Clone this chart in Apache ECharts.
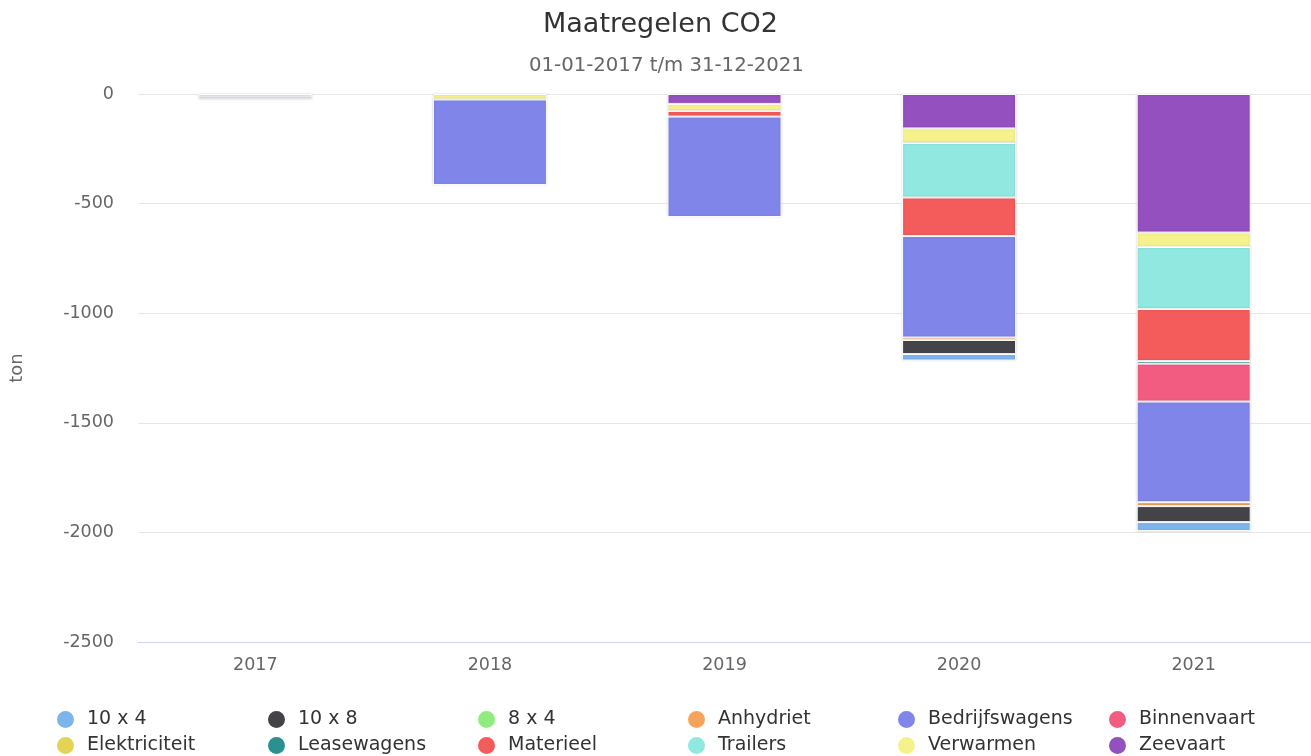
<!DOCTYPE html>
<html>
<head>
<meta charset="utf-8">
<script src="https://cdn.jsdelivr.net/npm/echarts@6/dist/echarts.min.js"></script>
<style>
html,body{margin:0;padding:0;background:#fff;}
#chart{width:1311px;height:756px;}
</style>
</head>
<body>
<div id="chart"></div>
<script>
const years = ['2017', '2018', '2019', '2020', '2021'];
const yTicks = { min: -2500, max: 0, interval: 500 };

// legend order (as in reference)
const seriesNames = ['10 x 4', '10 x 8', '8 x 4', 'Anhydriet', 'Bedrijfswagens', 'Binnenvaart',
  'Elektriciteit', 'Leasewagens', 'Materieel', 'Trailers', 'Verwarmen', 'Zeevaart'];
const seriesColors = ['#7cb5ec', '#434348', '#90ed7d', '#f7a35c', '#8085e9', '#f15c80',
  '#e4d354', '#2b908f', '#f45b5b', '#91e8e1', '#f6f28b', '#9350be'];

// values per series (ton), per year
const v10x4 = [null, null, null, -30, -41];
const v10x8 = [null, null, null, -64, -73];
const v8x4 = [null, null, null, null, null];
const vAnhydriet = [null, null, null, -11, -18];
const vBedrijfswagens = [-12, -390, -458, -463, -459];
const vBinnenvaart = [null, null, null, null, -173];
const vElektriciteit = [null, null, null, null, null];
const vLeasewagens = [null, null, null, null, -12];
const vMaterieel = [null, null, -26, -176, -237];
const vTrailers = [null, null, null, -249, -283];
const vVerwarmen = [-12, -25, -32, -66, -66];
const vZeevaart = [null, null, -45, -157, -632];

const valuesByName = {
  '10 x 4': v10x4, '10 x 8': v10x8, '8 x 4': v8x4, 'Anhydriet': vAnhydriet,
  'Bedrijfswagens': vBedrijfswagens, 'Binnenvaart': vBinnenvaart, 'Elektriciteit': vElektriciteit,
  'Leasewagens': vLeasewagens, 'Materieel': vMaterieel, 'Trailers': vTrailers,
  'Verwarmen': vVerwarmen, 'Zeevaart': vZeevaart
};

const FONT = 'DejaVu Sans';

// stack order: last legend series nearest zero
const stackOrder = seriesNames.slice().reverse();
const series = stackOrder.map(name => ({
  name: name,
  type: 'bar',
  stack: 'total',
  barWidth: 114,
  data: valuesByName[name],
  itemStyle: {
    color: seriesColors[seriesNames.indexOf(name)],
    borderColor: '#ffffff',
    borderWidth: 1,
    shadowColor: 'rgba(0,0,0,0.18)',
    shadowBlur: 2
  },
  emphasis: { disabled: true }
}));

const colX = [55, 266, 476, 686, 896, 1107];
const rowY = [709, 735];
const legends = seriesNames.map((name, i) => ({
  data: [name],
  left: colX[i % 6],
  top: rowY[Math.floor(i / 6)],
  icon: 'circle',
  itemWidth: 19,
  itemHeight: 19,
  padding: 0,
  textStyle: { fontFamily: FONT, fontSize: 19, color: '#333333', padding: [0, 0, 0, 7] }
}));

const chart = echarts.init(document.getElementById('chart'), null, { renderer: 'canvas' });
chart.setOption({
  animation: false,
  color: seriesColors,
  title: [
    { text: 'Maatregelen CO2', left: 538, top: 6,
      textStyle: { fontFamily: FONT, fontSize: 27, fontWeight: 'normal', color: '#333333' } },
    { text: '01-01-2017 t/m 31-12-2021', left: 524, top: 51,
      textStyle: { fontFamily: FONT, fontSize: 19.7, fontWeight: 'normal', color: '#666666' } }
  ],
  legend: legends,
  grid: { left: 136, right: -2, top: 94, bottom: 114, containLabel: false },
  xAxis: {
    type: 'category',
    data: years,
    axisLine: { onZero: false, lineStyle: { color: '#ccd6eb', width: 1 } },
    axisTick: { show: false },
    axisLabel: { fontFamily: FONT, fontSize: 17.5, color: '#666666', margin: 14 }
  },
  yAxis: {
    type: 'value',
    min: yTicks.min, max: yTicks.max, interval: yTicks.interval,
    name: 'ton',
    nameLocation: 'middle',
    nameGap: 112,
    nameRotate: 90,
    nameTextStyle: { fontFamily: FONT, fontSize: 18, color: '#666666' },
    axisLine: { show: false },
    axisTick: { show: false },
    splitLine: { lineStyle: { color: '#e6e6e6', width: 1 } },
    axisLabel: { fontFamily: FONT, fontSize: 17.5, color: '#666666', margin: 24,
      formatter: v => String(v) }
  },
  series: series
});
</script>
</body>
</html>
